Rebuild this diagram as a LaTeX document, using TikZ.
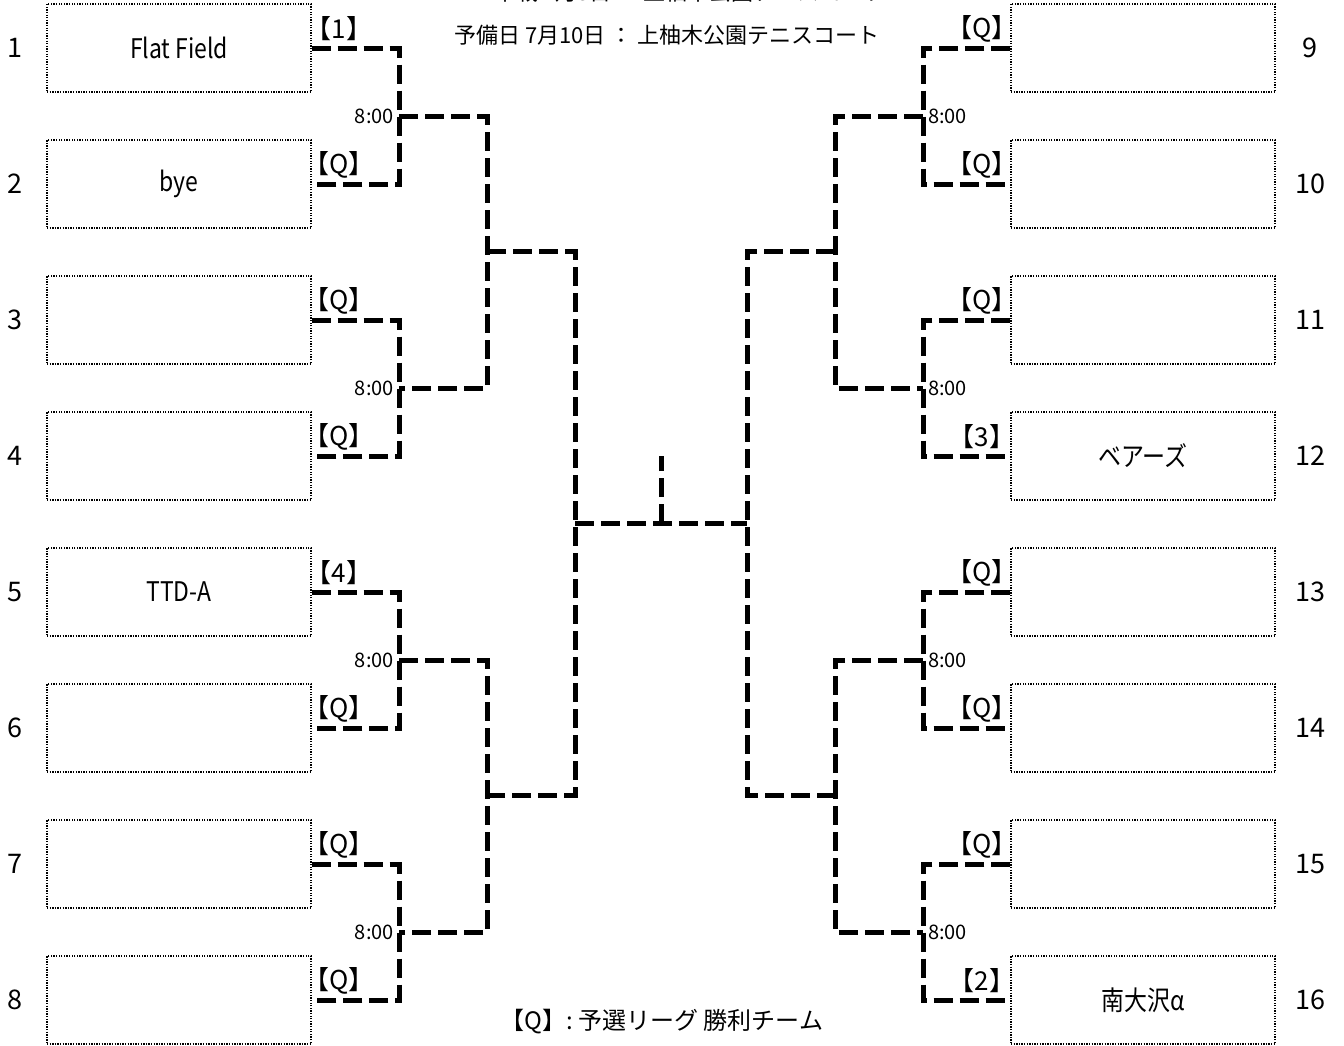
\documentclass[tikz,border=0pt]{standalone}
\usepackage{fontspec}
\setmainfont{Noto Sans CJK JP}
\newfontfamily\narrowfont[FakeStretch=0.85]{Noto Sans CJK JP}
\begin{document}
\begin{tikzpicture}[x=1pt,y=-1pt,
  team/.style={draw, line width=1.3pt, dash pattern=on 1.3pt off 1.3pt,
    minimum width=264pt, minimum height=88pt, inner sep=0pt,
    font=\narrowfont\fontsize{27}{32}\selectfont},
  br/.style={line width=5pt, dash pattern=on 19pt off 7pt},
  seed/.style={font=\fontsize{26}{30}\selectfont, inner sep=0pt},
  num/.style={font=\fontsize{27}{32}\selectfont, inner sep=0pt},
  timelbl/.style={font=\fontsize{20}{24}\selectfont, inner sep=0pt},
  info/.style={font=\fontsize{22}{26}\selectfont, inner sep=0pt}]
\useasboundingbox (0,0) rectangle (1344,1045);
\clip (0,0) rectangle (1344,1045);
% header
\node[info] (h1) at (690,-8) {本戦 7月3日 ： 上柚木公園テニスコート};
\node[info] (h2) at (667,35) {予備日 7月10日 ： 上柚木公園テニスコート};
% left teams
\foreach \i/\txt/\sd in {1/Flat Field/1, 2/bye/Q, 3//Q, 4//Q, 5/TTD-A/4, 6//Q, 7//Q, 8//Q}{
  \pgfmathsetmacro\yy{48+136*(\i-1)}
  \node[team] (L\i) at (179,\yy) {\txt};
  \node[num] (nL\i) at (15,\yy) {\i};
  \node[seed] (sL\i) at (339,\yy-19) {【\sd】};
}
% right teams
\foreach \i/\txt/\sd in {9//Q, 10//Q, 11//Q, 12/ベアーズ/3, 13//Q, 14//Q, 15//Q, 16/南大沢α/2}{
  \pgfmathsetmacro\yy{48+136*(\i-9)}
  \node[team] (R\i) at (1143,\yy) {\txt};
  \node[num] (nR\i) at (1310,\yy) {\i};
  \node[seed] (sR\i) at (982,\yy-19) {【\sd】};
}
% coordinates
\foreach \k in {1,...,4}{
  \pgfmathsetmacro\yy{116+272*(\k-1)}
  \coordinate (qL\k) at (399,\yy);
  \coordinate (qR\k) at (923,\yy);
  \node[timelbl, anchor=east] (tL\k) at (394,\yy) {8:00};
  \node[timelbl, anchor=west] (tR\k) at (928,\yy) {8:00};
}
\coordinate (uL1) at (487,251);
\coordinate (uL2) at (487,795);
\coordinate (uR1) at (835,251);
\coordinate (uR2) at (835,795);
\coordinate (vL) at (575,523);
\coordinate (vR) at (747,523);
\coordinate (cmid) at (661,523);
\coordinate (ctop) at (661,456);
% round 1
\draw[br] (L1.east) -| (qL1) |- (L2.east);
\draw[br] (L3.east) -| (qL2) |- (L4.east);
\draw[br] (L5.east) -| (qL3) |- (L6.east);
\draw[br] (L7.east) -| (qL4) |- (L8.east);
\draw[br] (R9.west) -| (qR1) |- (R10.west);
\draw[br] (R11.west) -| (qR2) |- (R12.west);
\draw[br] (R13.west) -| (qR3) |- (R14.west);
\draw[br] (R15.west) -| (qR4) |- (R16.west);
% round 2
\draw[br] (qL1) -| (uL1) |- (qL2);
\draw[br] (qL3) -| (uL2) |- (qL4);
\draw[br] (qR1) -| (uR1) |- (qR2);
\draw[br] (qR3) -| (uR2) |- (qR4);
% round 3
\draw[br] (uL1) -| (vL) |- (uL2);
\draw[br] (uR1) -| (vR) |- (uR2);
% final
\draw[br] (vL) -- (vR);
\draw[br] (cmid) -- (ctop);
% legend
\node[font=\fontsize{24}{28}\selectfont, inner sep=0pt] (leg) at (662,1022) {【Q】: 予選リーグ 勝利チーム};
\end{tikzpicture}
\end{document}
